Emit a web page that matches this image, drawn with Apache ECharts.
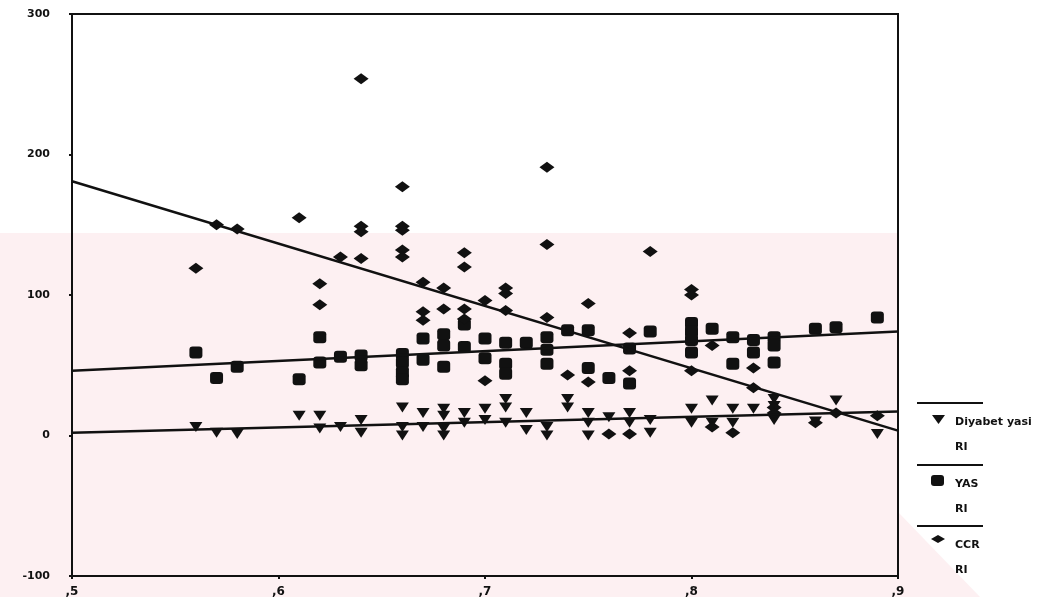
<!DOCTYPE html>
<html>

<head>
    <meta charset="utf-8">
    <script type="text/javascript" src="https://cdn.jsdelivr.net/npm/echarts@6/dist/echarts.min.js"></script>
    <title>RI scatter</title>
    <style>
        body { margin: 0; background: #fff; }
    </style>
</head>

<body>
    <div id="container" style="width:1042px;height:608px;"></div>
    <script type="text/javascript">
    // x ekseni: RI, y ekseni: degerler
    var xTicks = [0.5, 0.6, 0.7, 0.8, 0.9];
    var yTicks = [-100, 0, 100, 200, 300];

    // Diyabet yasi (asagi ucgen)
    var diyabet = [
        [0.56, 6], [0.57, 2], [0.58, 1], [0.61, 14], [0.62, 14], [0.62, 5], [0.63, 6],
        [0.64, 11], [0.64, 2], [0.66, 20], [0.66, 6], [0.66, 0], [0.67, 16], [0.67, 6],
        [0.68, 19], [0.68, 14], [0.68, 5], [0.68, 0], [0.69, 16], [0.69, 9], [0.70, 19],
        [0.70, 11], [0.71, 26], [0.71, 20], [0.71, 9], [0.72, 16], [0.72, 4], [0.73, 6],
        [0.73, 0], [0.74, 26], [0.74, 20], [0.75, 16], [0.75, 9], [0.75, 0], [0.76, 13],
        [0.77, 16], [0.77, 9], [0.78, 11], [0.78, 2], [0.80, 19], [0.80, 9], [0.81, 25],
        [0.81, 9], [0.82, 19], [0.82, 9], [0.83, 19], [0.84, 26], [0.84, 21], [0.84, 11],
        [0.86, 10], [0.87, 25], [0.89, 1]
    ];

    // YAS (kare)
    var yas = [
        [0.56, 59], [0.57, 41], [0.58, 49], [0.61, 40], [0.62, 70], [0.62, 52], [0.63, 56],
        [0.64, 57], [0.64, 50], [0.66, 58], [0.66, 52], [0.66, 45], [0.66, 40], [0.67, 69],
        [0.67, 54], [0.68, 72], [0.68, 64], [0.68, 49], [0.69, 79], [0.69, 63], [0.70, 69],
        [0.70, 55], [0.71, 66], [0.71, 51], [0.71, 44], [0.72, 66], [0.73, 70], [0.73, 61],
        [0.73, 51], [0.74, 75], [0.75, 75], [0.75, 48], [0.76, 41], [0.77, 62], [0.77, 37],
        [0.78, 74], [0.80, 80], [0.80, 74], [0.80, 68], [0.80, 59], [0.81, 76], [0.82, 70],
        [0.82, 51], [0.83, 68], [0.83, 59], [0.84, 70], [0.84, 64], [0.84, 52], [0.86, 76],
        [0.87, 77], [0.89, 84]
    ];

    // CCR (baklava)
    var ccr = [
        [0.56, 119], [0.57, 150], [0.58, 147], [0.61, 155], [0.62, 108], [0.62, 93],
        [0.63, 127], [0.64, 254], [0.64, 149], [0.64, 145], [0.64, 126], [0.66, 177],
        [0.66, 149], [0.66, 146], [0.66, 132], [0.66, 127], [0.67, 109], [0.67, 88],
        [0.67, 82], [0.68, 105], [0.68, 90], [0.69, 130], [0.69, 120], [0.69, 90],
        [0.69, 83], [0.70, 96], [0.70, 39], [0.71, 105], [0.71, 101], [0.71, 89],
        [0.73, 191], [0.73, 136], [0.73, 84], [0.74, 43], [0.75, 94], [0.75, 38],
        [0.76, 1], [0.77, 73], [0.77, 46], [0.77, 1], [0.78, 131], [0.80, 104],
        [0.80, 100], [0.80, 46], [0.81, 64], [0.81, 6], [0.82, 2], [0.83, 48], [0.83, 34],
        [0.84, 20], [0.84, 16], [0.86, 9], [0.87, 16], [0.89, 14]
    ];

    // dogrusal uyum cizgileri (RI = ,5 ve ,9 uclarinda okunan degerler)
    var diyabetFit = [[0.5, 2], [0.9, 17]];
    var yasFit = [[0.5, 46], [0.9, 74]];
    var ccrFit = [[0.5, 181], [0.9, 3.5]];

    var legendItems = ['Diyabet yasi', 'YAS', 'CCR'];
    var legendSub = 'RI';

    var myChart = echarts.init(document.getElementById('container'));

    var font = 'DejaVu Sans';
    var black = '#111';

    function fitLine(data) {
        return {
            type: 'line',
            data: data,
            showSymbol: false,
            silent: true,
            lineStyle: { color: black, width: 2.5 },
            z: 3
        };
    }

    // taranmis sayfadaki soluk pembe filigran (yaklasik)
    var graphics = [
        {
            type: 'polygon',
            z: -1,
            silent: true,
            shape: { points: [[0, 233], [898, 233], [898, 512], [980, 597], [0, 597]] },
            style: { fill: '#fdf0f2' }
        }
    ];

    // sag taraftaki aciklama (legend) - elle cizildi
    var legendTop = [403, 465, 526];
    var legendSymbols = [
        { type: 'polygon', shape: { points: [[932, 415], [945, 415], [938.5, 424]] } },
        { type: 'rect', shape: { x: 931, y: 475, width: 13, height: 11, r: 3 } },
        { type: 'polygon', shape: { points: [[931, 539], [938, 535], [945, 539], [938, 543]] } }
    ];
    legendItems.forEach(function (name, i) {
        var y0 = legendTop[i];
        graphics.push({
            type: 'line',
            shape: { x1: 917, y1: y0, x2: 983, y2: y0 },
            style: { stroke: black, lineWidth: 2 }
        });
        var s = legendSymbols[i];
        s.style = { fill: black };
        graphics.push(s);
        graphics.push({
            type: 'text',
            x: 955, y: y0 + 19,
            style: { text: name, fill: black, font: 'bold 11px ' + font, textVerticalAlign: 'middle' }
        });
        graphics.push({
            type: 'text',
            x: 955, y: y0 + 44,
            style: { text: legendSub, fill: black, font: 'bold 11px ' + font, textVerticalAlign: 'middle' }
        });
    });

    var option = {
        animation: false,
        backgroundColor: '#fff',
        grid: {
            left: 72, right: 144, top: 14, bottom: 32,
            show: true,
            borderColor: black,
            borderWidth: 2
        },
        xAxis: {
            type: 'value',
            min: xTicks[0],
            max: xTicks[xTicks.length - 1],
            interval: 0.1,
            axisLine: { show: true, onZero: false, lineStyle: { color: black, width: 2 } },
            axisTick: { show: true, length: 3, lineStyle: { color: black, width: 2 } },
            splitLine: { show: false },
            axisLabel: {
                margin: 10,
                color: black,
                fontFamily: font,
                fontWeight: 'bold',
                fontSize: 12,
                formatter: function (v) { return ',' + Math.round(v * 10); }
            }
        },
        yAxis: {
            type: 'value',
            min: yTicks[0],
            max: yTicks[yTicks.length - 1],
            interval: 100,
            axisLine: { show: true, onZero: false, lineStyle: { color: black, width: 2 } },
            axisTick: { show: true, length: 3, lineStyle: { color: black, width: 2 } },
            splitLine: { show: false },
            axisLabel: {
                margin: 22,
                color: black,
                fontFamily: font,
                fontWeight: 'bold',
                fontSize: 11
            }
        },
        graphic: graphics,
        series: [
            {
                name: 'Diyabet yasi',
                type: 'scatter',
                data: diyabet,
                symbol: 'triangle',
                symbolRotate: 180,
                symbolSize: [13, 10],
                itemStyle: { color: black, opacity: 1 }
            },
            {
                name: 'YAS',
                type: 'scatter',
                data: yas,
                symbol: 'roundRect',
                symbolSize: [13, 12],
                itemStyle: { color: black, opacity: 1 }
            },
            {
                name: 'CCR',
                type: 'scatter',
                data: ccr,
                symbol: 'diamond',
                symbolSize: [15, 11],
                itemStyle: { color: black, opacity: 1 }
            },
            fitLine(diyabetFit),
            fitLine(yasFit),
            fitLine(ccrFit)
        ]
    };

    myChart.setOption(option);
    </script>
</body>

</html>
